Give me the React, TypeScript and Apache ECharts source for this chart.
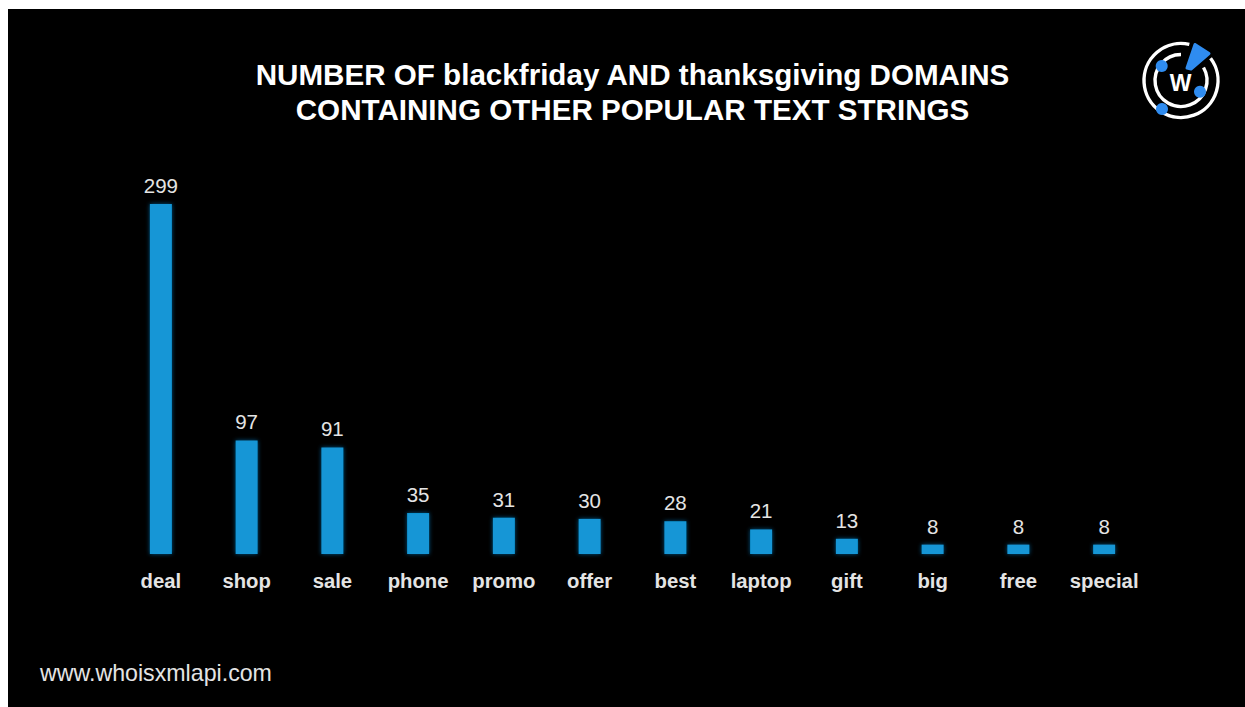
import React, { useEffect, useRef } from "react";
import * as echarts from "echarts";

const categories = ["deal", "shop", "sale", "phone", "promo", "offer", "best", "laptop", "gift", "big", "free", "special"];
const domainCounts = [299, 97, 91, 35, 31, 30, 28, 21, 13, 8, 8, 8];
const titleLines = ["NUMBER OF blackfriday AND thanksgiving DOMAINS", "CONTAINING OTHER POPULAR TEXT STRINGS"];
const siteUrl = "www.whoisxmlapi.com";

const FONT = '"Liberation Sans", Arial, sans-serif';
const BLUE = "#1296d6";
const LOGO_BLUE = "#2f8cf0";

// Brand mark: two rings opened around a wedge, three dots and the W in the middle
const logoCx = 1173;
const logoCy = 71.5;
const deg = (d: number) => (d * Math.PI) / 180;

function ringArc(r: number, from: number, to: number) {
  return {
    type: "arc",
    shape: { cx: logoCx, cy: logoCy, r, startAngle: deg(from), endAngle: deg(to), clockwise: true },
    style: { stroke: "#ffffff", lineWidth: 3.4, fill: "none" },
  };
}

function dot(x: number, y: number) {
  return { type: "circle", shape: { cx: x, cy: y, r: 6 }, style: { fill: LOGO_BLUE } };
}

export default function App() {
  const ref = useRef<HTMLDivElement>(null);

  useEffect(() => {
    const chart = echarts.init(ref.current!, null, { renderer: "svg" });
    chart.setOption({
      animation: false,
      backgroundColor: "#000000",
      title: {
        text: titleLines.join("\n"),
        left: 619.5,
        top: 43,
        textAlign: "center",
        textStyle: { color: "#ffffff", fontFamily: FONT, fontWeight: "bold", fontSize: 29.6, lineHeight: 35 },
      },
      grid: { left: 110, right: 98, top: 195, bottom: 153, containLabel: false },
      xAxis: {
        type: "category",
        data: categories,
        axisLine: { show: false },
        axisTick: { show: false },
        axisLabel: {
          color: "#e4e4e4",
          fontFamily: FONT,
          fontWeight: "bold",
          fontSize: 20.3,
          margin: 17,
          interval: 0,
        },
      },
      yAxis: { type: "value", min: 0, max: 299, show: false, splitLine: { show: false } },
      series: [
        {
          type: "bar",
          data: domainCounts,
          barWidth: 22,
          itemStyle: { color: BLUE, shadowColor: "rgba(18,120,190,0.7)", shadowBlur: 4 },
          label: {
            show: true,
            position: "top",
            distance: 8,
            color: "#e4e4e4",
            fontFamily: FONT,
            fontSize: 20.5,
          },
        },
      ],
      graphic: [
        ringArc(37, -37, 283),
        ringArc(26, -30, 270),
        {
          type: "polygon",
          shape: {
            points: [
              [1187, 35.5],
              [1201, 44.5],
              [1183, 60],
              [1179, 59],
            ],
          },
          style: { fill: LOGO_BLUE, stroke: LOGO_BLUE, lineWidth: 3, lineJoin: "round" },
        },
        dot(1153.7, 57),
        dot(1192, 82.7),
        dot(1154, 100),
        {
          type: "text",
          x: 1172.5,
          y: 73.5,
          style: {
            text: "W",
            fill: "#ffffff",
            fontFamily: FONT,
            fontWeight: "bold",
            fontSize: 23,
            align: "center",
            verticalAlign: "middle",
          },
        },
        {
          type: "text",
          x: 32,
          y: 664,
          style: {
            text: siteUrl,
            fill: "#e4e4e4",
            fontFamily: FONT,
            fontSize: 23.2,
            align: "left",
            verticalAlign: "middle",
          },
        },
      ],
    });
    return () => chart.dispose();
  }, []);

  return <div ref={ref} style={{ position: "fixed", left: 8, top: 9, width: 1237, height: 698 }} />;
}
